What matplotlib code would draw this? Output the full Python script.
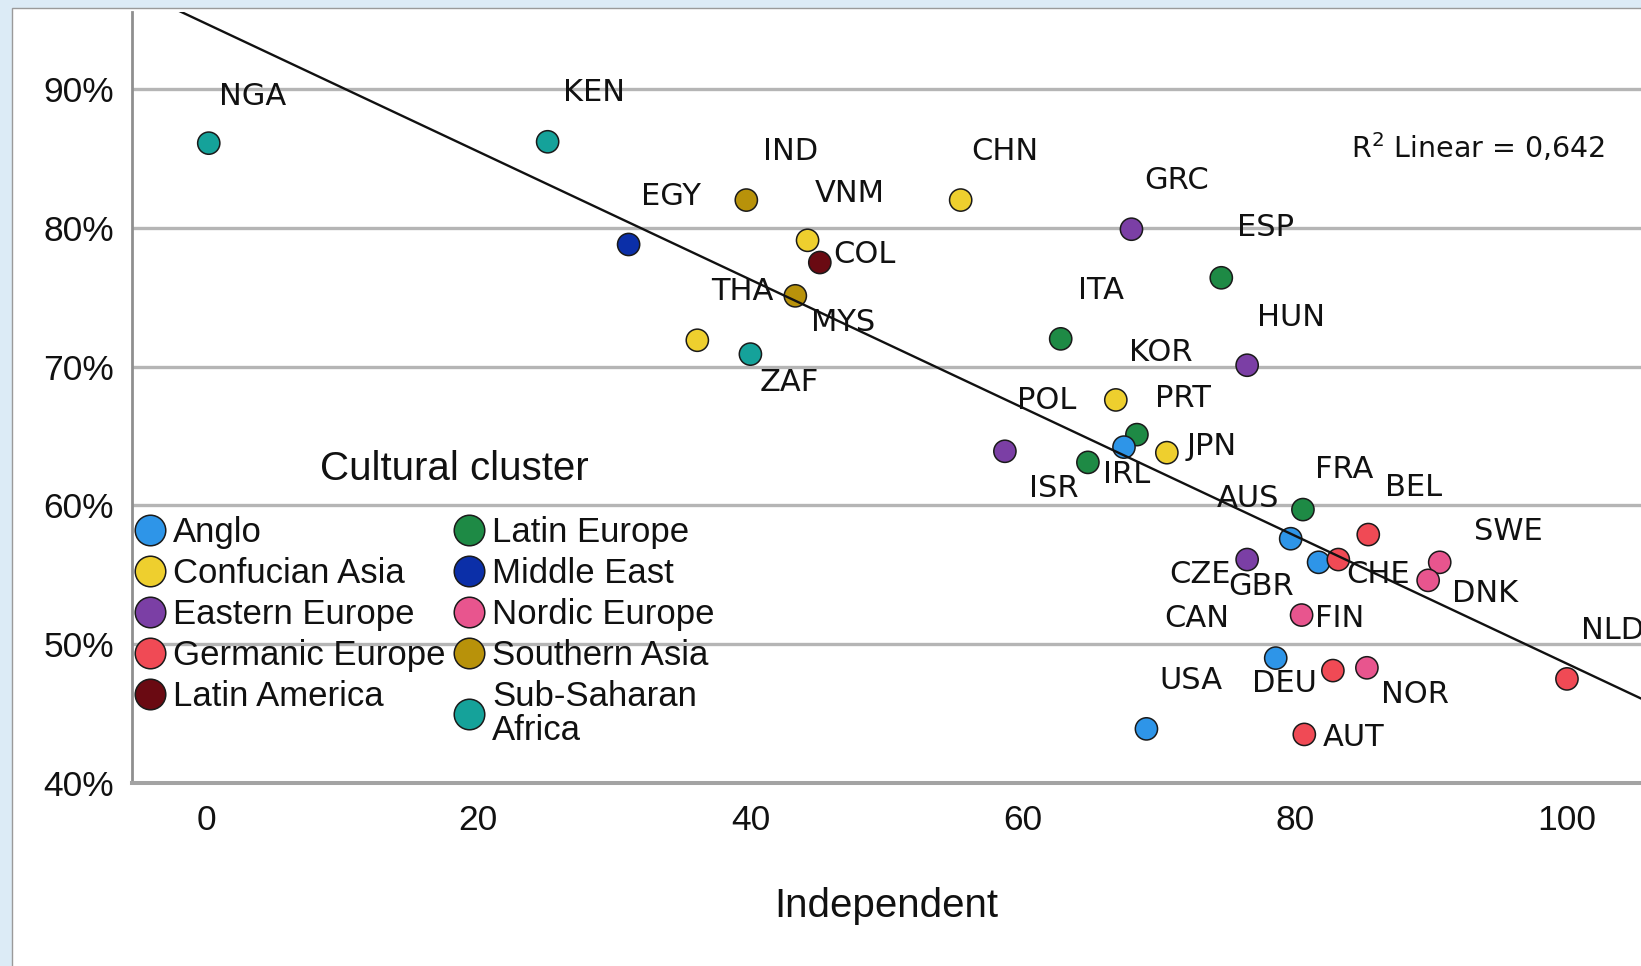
import numpy as np
import matplotlib
matplotlib.use("Agg")
import matplotlib.pyplot as plt
from matplotlib.lines import Line2D
from matplotlib.patches import Rectangle
from matplotlib.ticker import PercentFormatter

# ---- data -------------------------------------------------------------
countries = ["NGA", "KEN", "EGY", "IND", "VNM", "COL", "MYS", "THA", "ZAF", "CHN",
             "GRC", "ESP", "ITA", "HUN", "KOR", "PRT", "IRL", "ISR", "POL", "JPN",
             "FRA", "AUS", "BEL", "CZE", "GBR", "CHE", "SWE", "DNK", "FIN", "CAN",
             "DEU", "NOR", "AUT", "NLD", "USA"]
independent = [0.2, 25.1, 31.05, 39.7, 44.2, 45.1, 43.3, 36.1, 40.0, 55.45,
               68.0, 74.6, 62.8, 76.5, 66.85, 68.4, 67.45, 64.8, 58.7, 70.6,
               80.6, 79.7, 85.4, 76.5, 81.75, 83.2, 90.65, 89.8, 80.5, 78.6,
               82.8, 85.3, 80.7, 100.0, 69.1]
share = [0.861, 0.862, 0.788, 0.820, 0.791, 0.775, 0.751, 0.719, 0.709, 0.820,
         0.799, 0.764, 0.720, 0.701, 0.676, 0.651, 0.642, 0.631, 0.639, 0.638,
         0.597, 0.576, 0.579, 0.561, 0.559, 0.561, 0.559, 0.546, 0.521, 0.490,
         0.481, 0.483, 0.435, 0.475, 0.439]
cluster = ["Sub-Saharan Africa", "Sub-Saharan Africa", "Middle East", "Southern Asia",
           "Confucian Asia", "Latin America", "Southern Asia", "Confucian Asia",
           "Sub-Saharan Africa", "Confucian Asia", "Eastern Europe", "Latin Europe",
           "Latin Europe", "Eastern Europe", "Confucian Asia", "Latin Europe", "Anglo",
           "Latin Europe", "Eastern Europe", "Confucian Asia", "Latin Europe", "Anglo",
           "Germanic Europe", "Eastern Europe", "Anglo", "Germanic Europe",
           "Nordic Europe", "Nordic Europe", "Nordic Europe", "Anglo",
           "Germanic Europe", "Nordic Europe", "Germanic Europe", "Germanic Europe",
           "Anglo"]
cluster_names = ["Anglo", "Confucian Asia", "Eastern Europe", "Germanic Europe",
                 "Latin America", "Latin Europe", "Middle East", "Nordic Europe",
                 "Southern Asia", "Sub-Saharan Africa"]
r_squared = 0.642

# ---- styling ----------------------------------------------------------
cluster_colors = {
    "Anglo": "#2e95e8",
    "Confucian Asia": "#eecf2e",
    "Eastern Europe": "#7b3fa5",
    "Germanic Europe": "#f04a55",
    "Latin America": "#6a0a12",
    "Latin Europe": "#1e8a45",
    "Middle East": "#0b2fa8",
    "Nordic Europe": "#e8558e",
    "Southern Asia": "#b8920a",
    "Sub-Saharan Africa": "#15a29a",
}
# label placement relative to each point, in pixels (x right, y up)
label_offsets = {
    "NGA": (44, 47), "KEN": (46, 49), "EGY": (42, 48), "IND": (44, 49),
    "VNM": (42, 47), "COL": (45, 8), "MYS": (48, -27), "THA": (45, 49),
    "ZAF": (39, -28), "CHN": (44, 49), "GRC": (45, 49), "ESP": (44, 50),
    "ITA": (40, 48), "HUN": (44, 48), "KOR": (45, 47), "PRT": (46, 36),
    "IRL": (3, -27), "ISR": (-34, -26), "POL": (42, 51), "JPN": (45, 6),
    "FRA": (41, 40), "AUS": (-43, 40), "BEL": (45, 47), "CZE": (-47, -15),
    "GBR": (-57, -24), "CHE": (40, -15), "SWE": (69, 31), "DNK": (57, -13),
    "FIN": (38, -3), "CAN": (-79, 40), "DEU": (-48, -13), "NOR": (48, -27),
    "AUT": (49, -3), "NLD": (46, 48), "USA": (44, 48),
}

W, H = 1641, 966
sans = ["Liberation Sans", "DejaVu Sans"]
label_font = ["DejaVu Sans"]

fig = plt.figure(figsize=(W / 100, H / 100), dpi=100, facecolor="#dcebf6")

# white chart panel with a thin grey border
fig.patches.append(Rectangle((12 / W, -0.2), 1.5, 1.2 - 8 / H,
                             transform=fig.transFigure, facecolor="white",
                             edgecolor="#9a9a9a", linewidth=1.0, zorder=-5))

ax = fig.add_axes([132 / W, 183 / H, 1 - 132 / W, 771 / H])
ax.set_zorder(1)
ax.patch.set_alpha(0)
ax.set_xlim(-5.44, 105.44)
ax.set_ylim(0.40, 0.9555)

for side in ("top", "right"):
    ax.spines[side].set_visible(False)
ax.spines["left"].set_color("#8f8f8f")
ax.spines["left"].set_linewidth(2.0)
ax.spines["bottom"].set_color("#a3a3a3")
ax.spines["bottom"].set_linewidth(2.9)

ax.set_yticks([0.4, 0.5, 0.6, 0.7, 0.8, 0.9])
ax.set_xticks([0, 20, 40, 60, 80, 100])
ax.yaxis.set_major_formatter(PercentFormatter(1.0, decimals=0))
ax.tick_params(axis="both", length=0, labelcolor="#111111")
ax.tick_params(axis="y", pad=13)
ax.tick_params(axis="x", pad=15)
for lab in ax.get_xticklabels() + ax.get_yticklabels():
    lab.set_fontfamily(sans)
    lab.set_fontsize(25.5)

ax.set_axisbelow(True)
ax.yaxis.grid(True, color="#b5b5b5", linewidth=2.4)

ax.set_xlabel("Independent", fontfamily=sans, fontsize=29, color="#111111")
ax.xaxis.set_label_coords(0.5, -(887 - 783) / 771)

# scatter points, one colour per cultural cluster
colors = [cluster_colors[c] for c in cluster]
ax.scatter(independent, share, s=16 ** 2, c=colors, edgecolors="#1a1a1a",
           linewidths=1.1, zorder=3, clip_on=False)

# country codes
for name, x, y in zip(countries, independent, share):
    dx, dy = label_offsets[name]
    ax.annotate(name, (x, y), xytext=(dx, dy), textcoords="offset pixels",
                ha="center", va="center", fontsize=22, family=label_font,
                color="#111111", zorder=5, annotation_clip=False)

# linear fit through all countries
coef = np.polyfit(independent, share, 1)
xs = np.array(ax.get_xlim())
ax.plot(xs, np.polyval(coef, xs), color="#111111", linewidth=1.7, zorder=4)

ax.text(93.5, 0.858, f"R$^2$ Linear = {r_squared:.3f}".replace(".", ","),
        ha="center", va="center", fontsize=20.5, family=label_font, color="#111111")

# legend
handles = [Line2D([], [], linestyle="none", marker="o", markersize=22,
                  markerfacecolor=cluster_colors[n], markeredgecolor="#1a1a1a",
                  markeredgewidth=1.1) for n in cluster_names]
labels = [n.replace("Sub-Saharan ", "Sub-Saharan\n") for n in cluster_names]
leg = ax.legend(handles, labels, ncol=2, loc="upper left",
                bbox_to_anchor=(134 / W, 1 - 516 / H), bbox_transform=fig.transFigure,
                frameon=False, prop={"family": sans, "size": 25},
                handlelength=0.9, handletextpad=0.22, columnspacing=0.23,
                labelspacing=0.23, borderpad=0, borderaxespad=0)
for t in leg.get_texts():
    t.set_color("#111111")
    if "\n" in t.get_text():
        t.set_linespacing(1.05)

fig.text(454 / W, 1 - 469 / H, "Cultural cluster", ha="center", va="center",
         fontsize=29, family=sans, color="#111111")

fig.savefig("out.png", dpi=100, facecolor=fig.get_facecolor())
